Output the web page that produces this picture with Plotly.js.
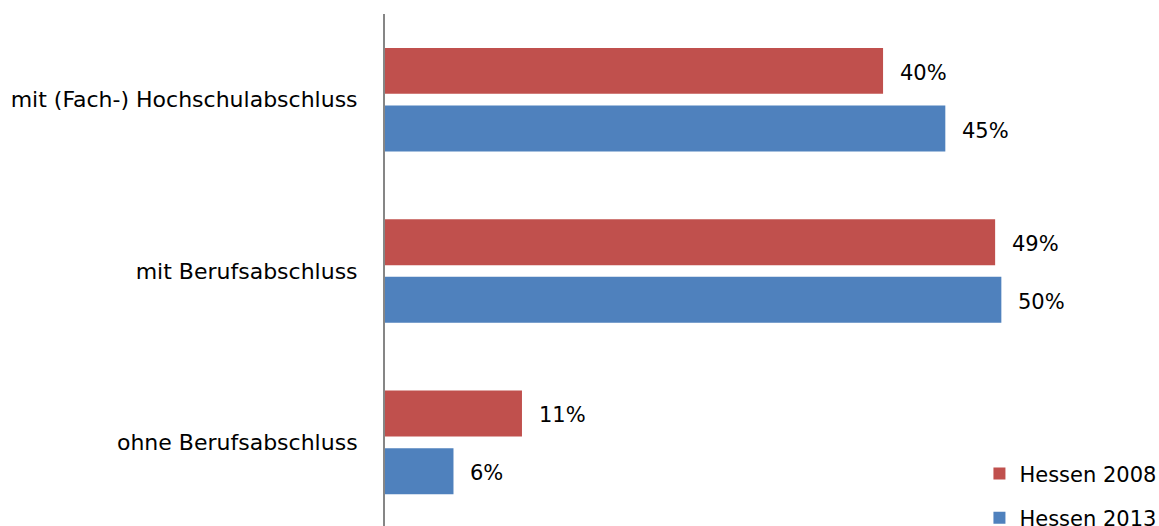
<!DOCTYPE html>
<html>
<head>
<meta charset="utf-8">
<script src="https://cdn.plot.ly/plotly-3.0.1.min.js"></script>
<style>
  html, body { margin: 0; padding: 0; background: #ffffff; }
  #chart { width: 1159px; height: 526px; }
</style>
</head>
<body>
<div id="chart"></div>
<script>
const categories = ["mit (Fach-) Hochschulabschluss", "mit Berufsabschluss", "ohne Berufsabschluss"];
const seriesNames = ["Hessen 2008", "Hessen 2013"];
const values2008 = [40, 49, 11];
const values2013 = [45, 49.5, 5.5];
const labels2008 = ["40%", "49%", "11%"];
const labels2013 = ["45%", "50%", "6%"];

const FONT = "'DejaVu Sans', sans-serif";
const FS = 21;
const colors = ["#C0504D", "#4F81BD"];

const series = [
  {name: seriesNames[0], values: values2008, labels: labels2008, color: colors[0], shift: 27},
  {name: seriesNames[1], values: values2013, labels: labels2013, color: colors[1], shift: -31}
];

const traces = series.map((s, i) => ({
  type: "bar",
  orientation: "h",
  y: categories,
  x: s.values,
  name: s.name,
  legendgroup: "g" + i,
  marker: {color: s.color},
  hoverinfo: "skip"
}));

const annotations = [];
series.forEach(s => {
  s.values.forEach((v, j) => {
    annotations.push({
      x: v, y: categories[j], xref: "x", yref: "y",
      text: s.labels[j], showarrow: false,
      xanchor: "left", yanchor: "middle",
      xshift: 15, yshift: s.shift,
      font: {family: FONT, size: FS, color: "#000000"}
    });
  });
});

const layout = {
  width: 1159, height: 526,
  margin: {l: 385, r: 2.4, t: 13.6, b: 0, pad: 0, autoexpand: false},
  paper_bgcolor: "#ffffff", plot_bgcolor: "#ffffff",
  barmode: "group",
  bargap: 0.328,
  bargroupgap: 0.202,
  showlegend: true,
  legend: {
    x: 0.770, xanchor: "left",
    y: 0.142, yanchor: "top",
    traceorder: "grouped",
    tracegroupgap: 14,
    font: {family: FONT, size: FS, color: "#000000"},
    bgcolor: "rgba(0,0,0,0)",
    itemclick: false
  },
  xaxis: {
    range: [0, 62],
    visible: false,
    showgrid: false, zeroline: false
  },
  yaxis: {
    type: "category",
    categoryorder: "array",
    categoryarray: categories,
    range: [2.488, -0.5],
    showline: true, linecolor: "#868686", linewidth: 2,
    ticks: "", showgrid: false, zeroline: false,
    ticklabelstandoff: 21,
    tickfont: {family: FONT, size: 22, color: "#000000"}
  },
  annotations: annotations,
  font: {family: FONT}
};

Plotly.newPlot("chart", traces, layout, {displayModeBar: false, staticPlot: true});
</script>
</body>
</html>
